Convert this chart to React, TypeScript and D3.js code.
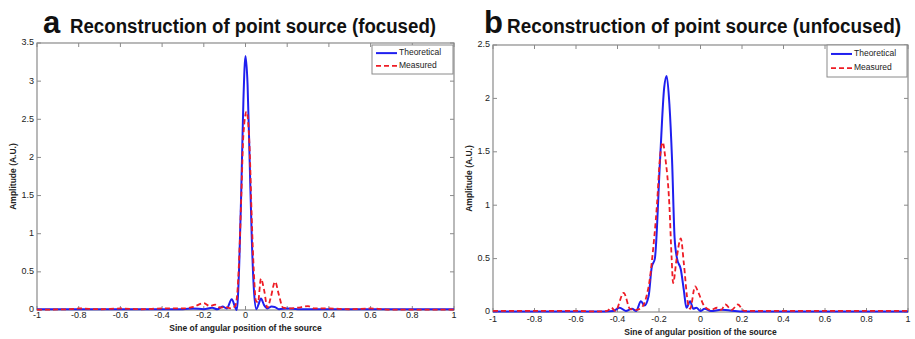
import React from "react";
import * as d3 from "d3";

type Pt = [number, number];

// x ticks shared by both panels
const xTickValues = [-1, -0.8, -0.6, -0.4, -0.2, 0, 0.2, 0.4, 0.6, 0.8, 1];
const yTicksA = [0, 0.5, 1, 1.5, 2, 2.5, 3, 3.5];
const yTicksB = [0, 0.5, 1, 1.5, 2, 2.5];

// panel a: focused
const theoreticalA: Pt[] = [
  [-1, 0.01], [-0.6, 0.01], [-0.3, 0.01], [-0.25, 0.02], [-0.2, 0.01], [-0.16, 0.03],
  [-0.135, 0.01], [-0.11, 0.045], [-0.09, 0.02], [-0.066, 0.14], [-0.05, 0.04], [-0.042, 0.0],
  [-0.03, 0.6], [-0.02, 1.6], [-0.01, 2.75], [0.0, 3.33], [0.01, 2.95], [0.02, 1.95],
  [0.03, 0.95], [0.04, 0.28], [0.052, 0.01], [0.062, 0.07], [0.074, 0.15], [0.09, 0.06],
  [0.105, 0.02], [0.125, 0.045], [0.14, 0.04], [0.16, 0.01], [0.2, 0.02], [0.25, 0.01],
  [0.35, 0.01], [1, 0.01],
];
const measuredA: Pt[] = [
  [-1, 0.005], [-0.85, 0.01], [-0.8, 0.02], [-0.7, 0.01], [-0.6, 0.02], [-0.5, 0.01],
  [-0.4, 0.02], [-0.3, 0.02], [-0.25, 0.04], [-0.2, 0.09], [-0.17, 0.05], [-0.146, 0.07],
  [-0.12, 0.03], [-0.1, 0.04], [-0.07, 0.02], [-0.05, 0.05], [-0.04, 0.2], [-0.03, 0.7],
  [-0.02, 1.5], [-0.01, 2.3], [0.005, 2.6], [0.02, 2.1], [0.03, 1.2], [0.04, 0.5],
  [0.05, 0.12], [0.06, 0.1], [0.074, 0.41], [0.09, 0.25], [0.105, 0.03], [0.12, 0.15],
  [0.142, 0.37], [0.16, 0.2], [0.18, 0.03], [0.21, 0.02], [0.25, 0.03], [0.3, 0.05],
  [0.33, 0.02], [0.4, 0.02], [0.5, 0.01], [0.6, 0.02], [0.7, 0.005], [1, 0.005],
];

// panel b: unfocused
const theoreticalB: Pt[] = [
  [-1, 0.005], [-0.5, 0.005], [-0.42, 0.01], [-0.39, 0.04], [-0.36, 0.01], [-0.33, 0.03],
  [-0.31, 0.01], [-0.287, 0.1], [-0.27, 0.06], [-0.25, 0.15], [-0.235, 0.42], [-0.22, 0.5],
  [-0.195, 1.42], [-0.175, 2.1], [-0.163, 2.21], [-0.15, 1.95], [-0.137, 1.42], [-0.125, 0.7],
  [-0.113, 0.5], [-0.095, 0.4], [-0.08, 0.2], [-0.068, 0.04], [-0.05, 0.1], [-0.035, 0.03],
  [-0.02, 0.04], [0, 0.01], [0.02, 0.03], [0.05, 0.01], [0.1, 0.02], [0.2, 0.005], [1, 0.005],
];
const measuredB: Pt[] = [
  [-1, 0.01], [-0.6, 0.01], [-0.5, 0.005], [-0.45, 0.01], [-0.43, 0.04], [-0.41, 0.01],
  [-0.37, 0.18], [-0.34, 0.03], [-0.31, 0.02], [-0.28, 0.05], [-0.26, 0.15], [-0.245, 0.3],
  [-0.233, 0.5], [-0.21, 1.0], [-0.195, 1.45], [-0.182, 1.59], [-0.17, 1.45], [-0.15, 1.0],
  [-0.139, 0.5], [-0.132, 0.27], [-0.115, 0.5], [-0.095, 0.69], [-0.08, 0.45], [-0.062, 0.1],
  [-0.05, 0.03], [-0.026, 0.24], [-0.01, 0.18], [0.02, 0.05], [0.05, 0.02], [0.08, 0.04],
  [0.1, 0.02], [0.12, 0.07], [0.15, 0.02], [0.18, 0.07], [0.21, 0.01], [0.3, 0.01], [1, 0.01],
];

const BLUE = "#1f1fef";
const RED = "#ee1c25";
const AXIS = "#8a8a8a";
const FONT = "'Liberation Sans', Arial, sans-serif";

interface PanelProps {
  letter: string;
  title: string;
  box: { left: number; right: number; top: number; bottom: number };
  yMax: number;
  yTicks: number[];
  theoretical: Pt[];
  measured: Pt[];
  titleX: { letter: number; text: number; textEnd: number };
  legend: { x: number; y: number; w: number; h: number };
  tickLabelDy: number;
}

const fmt = (v: number) => (v === 0 ? "0" : String(v));

const Panel: React.FC<PanelProps> = ({
  letter, title, box, yMax, yTicks, theoretical, measured, titleX, legend, tickLabelDy,
}) => {
  const x = d3.scaleLinear().domain([-1, 1]).range([box.left, box.right]);
  const y = d3.scaleLinear().domain([0, yMax]).range([box.bottom, box.top]);
  const line = d3
    .line<Pt>()
    .x((d) => x(d[0]))
    .y((d) => y(d[1]))
    .curve(d3.curveMonotoneX);
  const tick = 4;
  const midY = (box.top + box.bottom) / 2;

  return (
    <g fontFamily={FONT}>
      {/* title: narrow bold face, stretched vertically */}
      <text x={titleX.letter} y={33} fontSize={31} fontWeight="bold" fill="#111">
        {letter}
      </text>
      <text
        transform={`translate(${titleX.text},33) scale(1,1.25)`}
        fontSize={16.5}
        fontWeight="bold"
        fill="#111"
        textLength={titleX.textEnd - titleX.text}
        lengthAdjust="spacingAndGlyphs"
      >
        {title}
      </text>

      {/* axes box */}
      <rect
        x={box.left}
        y={box.top}
        width={box.right - box.left}
        height={box.bottom - box.top}
        fill="white"
        stroke={AXIS}
        strokeWidth={1.2}
      />

      {/* x ticks */}
      {xTickValues.map((v) => (
        <g key={`x${v}`}>
          <line x1={x(v)} x2={x(v)} y1={box.bottom} y2={box.bottom - tick} stroke={AXIS} />
          <line x1={x(v)} x2={x(v)} y1={box.top} y2={box.top + tick} stroke={AXIS} />
          <text
            x={x(v)}
            y={box.bottom + tickLabelDy}
            textAnchor="middle"
            fontSize={9}
            fill="#222"
          >
            {fmt(v)}
          </text>
        </g>
      ))}

      {/* y ticks */}
      {yTicks.map((v) => (
        <g key={`y${v}`}>
          <line x1={box.left} x2={box.left + tick} y1={y(v)} y2={y(v)} stroke={AXIS} />
          <line x1={box.right} x2={box.right - tick} y1={y(v)} y2={y(v)} stroke={AXIS} />
          <text
            x={box.left - 3}
            y={y(v)}
            textAnchor="end"
            dominantBaseline="middle"
            fontSize={9}
            fill="#222"
          >
            {fmt(v)}
          </text>
        </g>
      ))}

      {/* axis labels */}
      <text
        x={(box.left + box.right) / 2}
        y={box.bottom + tickLabelDy + 13}
        textAnchor="middle"
        fontSize={8.5}
        fontWeight="bold"
        fill="#222"
      >
        Sine of angular position of the source
      </text>
      <text
        transform={`translate(${box.left - 21},${midY}) rotate(-90)`}
        textAnchor="middle"
        fontSize={8.5}
        fontWeight="bold"
        fill="#222"
      >
        Amplitude (A.U.)
      </text>

      {/* curves */}
      <path d={line(theoretical) ?? ""} fill="none" stroke={BLUE} strokeWidth={2} />
      <path
        d={line(measured) ?? ""}
        fill="none"
        stroke={RED}
        strokeWidth={1.8}
        strokeDasharray="5,3"
      />

      {/* legend */}
      <rect
        x={legend.x}
        y={legend.y}
        width={legend.w}
        height={legend.h}
        fill="white"
        stroke={AXIS}
        strokeWidth={1}
      />
      <line
        x1={legend.x + 4}
        x2={legend.x + 25}
        y1={legend.y + legend.h * 0.28}
        y2={legend.y + legend.h * 0.28}
        stroke={BLUE}
        strokeWidth={2}
      />
      <text
        x={legend.x + 27}
        y={legend.y + legend.h * 0.28}
        dominantBaseline="middle"
        fontSize={8.5}
        fill="#222"
      >
        Theoretical
      </text>
      <line
        x1={legend.x + 4}
        x2={legend.x + 25}
        y1={legend.y + legend.h * 0.72}
        y2={legend.y + legend.h * 0.72}
        stroke={RED}
        strokeWidth={1.8}
        strokeDasharray="5,3"
      />
      <text
        x={legend.x + 27}
        y={legend.y + legend.h * 0.72}
        dominantBaseline="middle"
        fontSize={8.5}
        fill="#222"
      >
        Measured
      </text>
    </g>
  );
};

const App: React.FC = () => (
  <svg
    width={915}
    height={339}
    style={{ position: "absolute", left: 0, top: 0, background: "white" }}
  >
    <Panel
      letter="a"
      title="Reconstruction of point source (focused)"
      box={{ left: 37, right: 454, top: 43, bottom: 310 }}
      yMax={3.5}
      yTicks={yTicksA}
      theoretical={theoreticalA}
      measured={measuredA}
      titleX={{ letter: 43, text: 70, textEnd: 436 }}
      legend={{ x: 372, y: 45, w: 81, h: 29 }}
      tickLabelDy={8}
    />
    <Panel
      letter="b"
      title="Reconstruction of point source (unfocused)"
      box={{ left: 493, right: 908, top: 45, bottom: 312 }}
      yMax={2.5}
      yTicks={yTicksB}
      theoretical={theoreticalB}
      measured={measuredB}
      titleX={{ letter: 484, text: 507, textEnd: 901 }}
      legend={{ x: 827, y: 45, w: 80, h: 32 }}
      tickLabelDy={10}
    />
  </svg>
);

export default App;
